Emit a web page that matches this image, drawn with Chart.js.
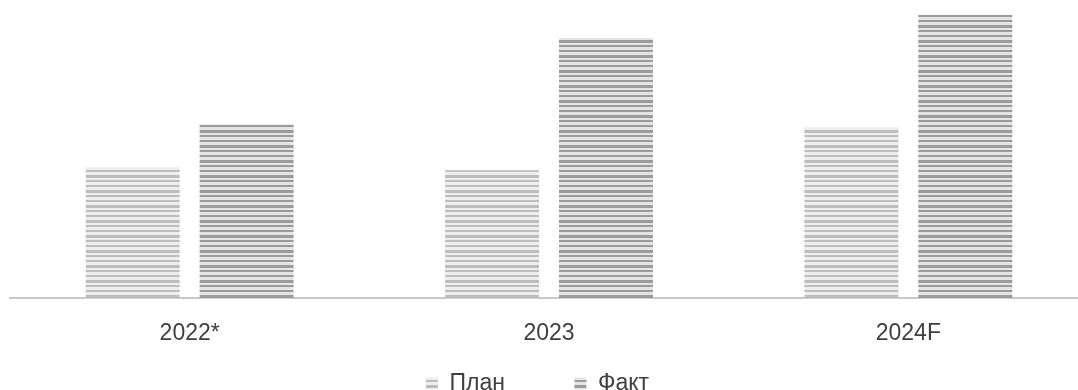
<!DOCTYPE html>
<html>
<head>
<meta charset="utf-8">
<script src="https://cdn.jsdelivr.net/npm/chart.js@4.4.1/dist/chart.umd.min.js"></script>
<style>
  html, body { margin: 0; padding: 0; background: #fff; overflow: hidden; }
  #wrap { position: relative; width: 1088px; height: 405px; }
</style>
</head>
<body>
<div id="wrap"><canvas id="chart"></canvas></div>
<script>
// data (no axis shown, relative units)
const categories = ['2022*', '2023', '2024F'];
const planValues = [131, 128, 171];
const factValues = [174, 260, 283];
const seriesNames = ['План', 'Факт'];

// horizontal stripe fill like the original bars
function stripes(dark, light) {
  const c = document.createElement('canvas');
  c.width = 4; c.height = 15;
  const g = c.getContext('2d');
  g.fillStyle = light;
  g.fillRect(0, 0, 4, 15);
  g.fillStyle = dark;
  [[0, 2], [5, 2], [10, 3]].forEach(([y, h]) => g.fillRect(0, y, 4, h));
  return g.createPattern(c, 'repeat');
}

const planFill = stripes('#bdbdbd', '#eeeeee');
const factFill = stripes('#9b9b9b', '#e4e4e4');
const font = { family: 'Liberation Sans', size: 23 };

new Chart(document.getElementById('chart'), {
  type: 'bar',
  data: {
    labels: categories,
    datasets: [
      { label: seriesNames[0], data: planValues, backgroundColor: planFill },
      { label: seriesNames[1], data: factValues, backgroundColor: factFill }
    ]
  },
  options: {
    responsive: true,
    maintainAspectRatio: false,
    animation: false,
    layout: { padding: { left: 10, right: 0, top: 8, bottom: 0 } },
    datasets: { bar: { categoryPercentage: 0.634, barPercentage: 0.825 } },
    scales: {
      x: {
        grid: { display: false },
        border: { display: true, color: '#c8c8c8', width: 2 },
        ticks: { color: '#404040', font, padding: 13 }
      },
      y: { display: false, min: 0, max: 290 }
    },
    plugins: {
      legend: {
        position: 'bottom',
        labels: {
          color: '#404040',
          font,
          boxWidth: 12, boxHeight: 12, padding: 12,
          generateLabels(chart) {
            const items = Chart.defaults.plugins.legend.labels.generateLabels(chart);
            // wider gap after the first item, as in the original
            items[0].text += '\u2003\u2003\u2002';
            items[1].text += '\u2003';
            return items;
          }
        }
      },
      tooltip: { enabled: false }
    }
  }
});
</script>
</body>
</html>
